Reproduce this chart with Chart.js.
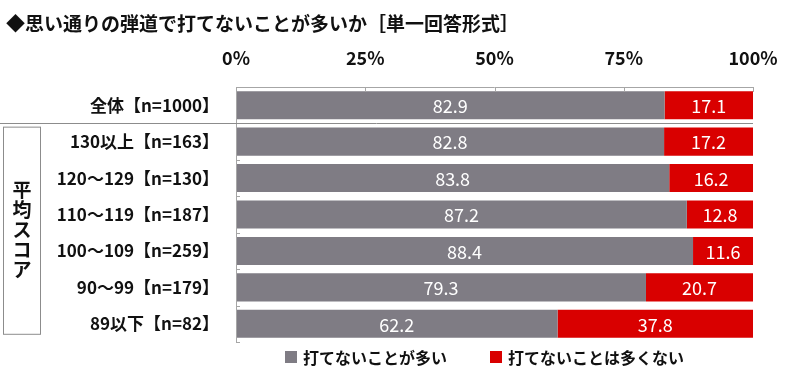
<!DOCTYPE html>
<html>
<head>
<meta charset="utf-8">
<script src="https://cdn.jsdelivr.net/npm/chart.js"></script>
<style>
  html, body { margin: 0; padding: 0; background: #fff; }
  #wrap { width: 800px; height: 374px; position: relative; }
</style>
</head>
<body>
<div id="wrap"><canvas id="chart"></canvas></div>
<script>
// Datos del gráfico
const categorias = ['全体【n=1000】', '130以上【n=163】', '120～129【n=130】', '110～119【n=187】', '100～109【n=259】', '90～99【n=179】', '89以下【n=82】'];
const serieMuchos = [82.9, 82.8, 83.8, 87.2, 88.4, 79.3, 62.2];
const serieNoMuchos = [17.1, 17.2, 16.2, 12.8, 11.6, 20.7, 37.8];
const nombresSeries = ['打てないことが多い', '打てないことは多くない'];
const ticksX = [0, 25, 50, 75, 100];
const titulo = '◆思い通りの弾道で打てないことが多いか［単一回答形式］';
const grupoTexto = ['平', '均', 'ス', 'コ', 'ア'];

const FONT = "'Noto Sans CJK JP', 'Noto Sans', sans-serif";
const GRIS = '#7f7c84';
const ROJO = '#d90000';

// Plugin: título, líneas de eje, separador, caja del grupo, leyenda y etiquetas
const decoracion = {
    id: 'decoracion',
    afterDraw(chart) {
        const ctx = chart.ctx;
        const area = chart.chartArea;
        const x = chart.scales.x;
        const y = chart.scales.y;
        ctx.save();

        // título
        ctx.fillStyle = '#111';
        ctx.font = 'bold 19px ' + FONT;
        ctx.textAlign = 'left';
        ctx.textBaseline = 'middle';
        ctx.fillText(titulo, 6, 24);

        // eje superior con marcas hacia dentro
        ctx.strokeStyle = '#a6a6a6';
        ctx.lineWidth = 1;
        ctx.beginPath();
        ctx.moveTo(area.left, area.top + 0.5);
        ctx.lineTo(area.right, area.top + 0.5);
        ticksX.forEach(v => {
            const px = Math.round(x.getPixelForValue(v)) + 0.5;
            ctx.moveTo(px, area.top);
            ctx.lineTo(px, area.top + 5);
        });
        // eje izquierdo
        ctx.moveTo(area.left + 0.5, area.top);
        ctx.lineTo(area.left + 0.5, area.bottom);
        for (let i = 0; i <= categorias.length; i++) {
            const py = Math.round(i === categorias.length
                ? area.bottom
                : (i === 0 ? area.top : (y.getPixelForValue(i - 1) + y.getPixelForValue(i)) / 2)) + 0.5;
            ctx.moveTo(area.left, py);
            ctx.lineTo(area.left + 4, py);
        }
        ctx.stroke();

        // separador entre 全体 y el resto
        const sep = Math.round((y.getPixelForValue(0) + y.getPixelForValue(1)) / 2) + 0.5;
        ctx.strokeStyle = '#8c8c8c';
        ctx.beginPath();
        ctx.moveTo(0, sep);
        ctx.lineTo(area.right, sep);
        ctx.stroke();

        // caja 平均スコア
        const top = y.getPixelForValue(1) - 15;
        const bottom = y.getPixelForValue(categorias.length - 1) + 10;
        ctx.strokeStyle = '#8c8c8c';
        ctx.strokeRect(3.5, top + 0.5, 37, bottom - top);
        ctx.fillStyle = '#111';
        ctx.font = 'bold 19px ' + FONT;
        ctx.textAlign = 'center';
        const mid = (top + bottom) / 2;
        grupoTexto.forEach((c, i) => {
            ctx.fillText(c, 22, mid + (i - 2) * 20);
        });

        // leyenda
        ctx.font = 'bold 16px ' + FONT;
        ctx.textAlign = 'left';
        const leyendaX = [285, 490];
        chart.data.datasets.forEach((ds, di) => {
            ctx.fillStyle = ds.backgroundColor;
            ctx.fillRect(leyendaX[di], 351, 12, 12);
            ctx.fillStyle = '#111';
            ctx.fillText(ds.label, leyendaX[di] + 18, 358);
        });

        // valores dentro de las barras
        ctx.font = '18px ' + FONT;
        ctx.textAlign = 'center';
        ctx.fillStyle = '#fff';
        chart.data.datasets.forEach((ds, di) => {
            chart.getDatasetMeta(di).data.forEach((bar, i) => {
                const cx = (bar.x + bar.base) / 2;
                ctx.fillText(ds.data[i].toFixed(1), cx, bar.y + 1);
            });
        });
        ctx.restore();
    }
};

new Chart(document.getElementById('chart'), {
    type: 'bar',
    data: {
        labels: categorias,
        datasets: [{
            label: nombresSeries[0],
            data: serieMuchos,
            backgroundColor: GRIS
        }, {
            label: nombresSeries[1],
            data: serieNoMuchos,
            backgroundColor: ROJO
        }]
    },
    options: {
        indexAxis: 'y',
        responsive: true,
        maintainAspectRatio: false,
        animation: false,
        layout: { padding: { top: 0, right: 47, bottom: 32, left: 0 } },
        datasets: { bar: { categoryPercentage: 0.77, barPercentage: 1 } },
        plugins: {
            legend: { display: false },
            tooltip: { enabled: false }
        },
        scales: {
            x: {
                position: 'top',
                stacked: true,
                min: 0,
                max: 100,
                afterFit: s => { s.height = 87; },
                afterBuildTicks: s => { s.ticks = ticksX.map(v => ({ value: v })); },
                border: { display: false },
                grid: { display: false },
                ticks: {
                    padding: 10,
                    color: '#111',
                    font: { family: FONT, size: 18, weight: 'bold' },
                    callback: v => v + '%'
                }
            },
            y: {
                stacked: true,
                afterFit: s => { s.width = 236; },
                border: { display: false },
                grid: { display: false },
                ticks: {
                    padding: 9,
                    color: '#111',
                    font: { family: FONT, size: 17, weight: 'bold' }
                }
            }
        }
    },
    plugins: [decoracion]
});
</script>
</body>
</html>
